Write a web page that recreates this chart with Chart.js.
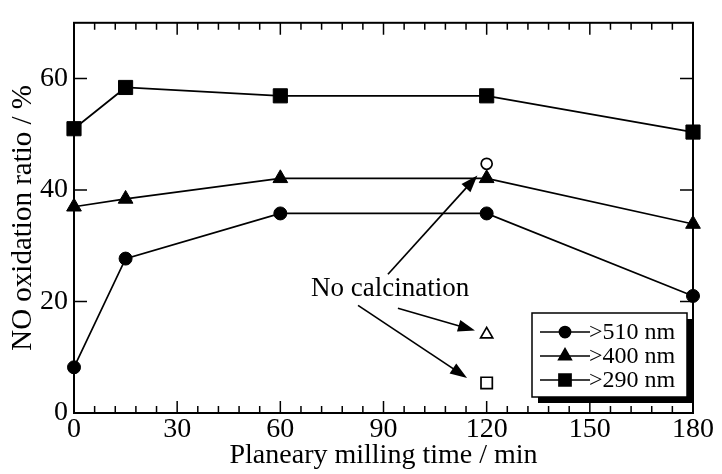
<!DOCTYPE html>
<html><head><meta charset="utf-8">
<script src="https://cdn.jsdelivr.net/npm/chart.js@4/dist/chart.umd.min.js"></script>
<style>html,body{margin:0;padding:0;background:#fff}</style>
</head><body>
<canvas id="c" width="722" height="474"></canvas>
<script>
// ---- data ----
const millingTimes = [0, 15, 60, 120, 180];
const ratio510 = [8.2, 27.7, 35.8, 35.8, 21.0];
const ratio400 = [37.0, 38.4, 42.1, 42.1, 33.9];
const ratio290 = [51.0, 58.4, 56.9, 56.9, 50.4];
const noCalcTime = [120];
const noCalc510 = [44.7];
const noCalc400 = [14.1];
const noCalc290 = [5.4];
const seriesLabels = ['>510 nm', '>400 nm', '>290 nm'];
const seriesMarkers = ['circle', 'triangle', 'rect'];
const annotationText = 'No calcination';
const xTickValues = [0, 30, 60, 90, 120, 150, 180];
const yTickValues = [0, 20, 40, 60];
const xTitle = 'Planeary milling time / min';
const yTitle = 'NO oxidation ratio / %';

const SERIF = '"Liberation Serif", "Times New Roman", serif';
const pts = (xs, ys) => xs.map((x, i) => ({x, y: ys[i]}));
const markerRadius = {circle: 6.5, triangle: 8.5, rect: 10};

const mainSet = (label, ys, m) => ({
  label, data: pts(millingTimes, ys), borderColor: '#000', backgroundColor: '#000',
  borderWidth: 1.7, pointStyle: m, pointRadius: markerRadius[m], pointBorderWidth: 1,
  pointBackgroundColor: '#000', pointBorderColor: '#000', showLine: true, tension: 0, clip: false
});
const openSet = (label, ys, m, r) => ({
  label, data: pts(noCalcTime, ys), showLine: false, pointStyle: m, pointRadius: r,
  pointBackgroundColor: '#fff', pointBorderColor: '#000', pointBorderWidth: 1.7, clip: false
});

const framePlugin = {
  id: 'frame',
  beforeDatasetsDraw(chart) {
    const ctx = chart.ctx, a = chart.chartArea, xs = chart.scales.x, ys = chart.scales.y;
    ctx.save();
    ctx.strokeStyle = '#000';
    ctx.lineWidth = 2;
    ctx.strokeRect(a.left, a.top, a.right - a.left, a.bottom - a.top);
    ctx.lineWidth = 1.5;
    ctx.beginPath();
    for (let v = 0; v <= 180; v += 6) {
      const px = xs.getPixelForValue(v);
      const len = (v % 30 === 0) ? 12 : 7;
      ctx.moveTo(px, a.bottom); ctx.lineTo(px, a.bottom - len);
      ctx.moveTo(px, a.top); ctx.lineTo(px, a.top + len);
    }
    yTickValues.forEach(v => {
      const py = ys.getPixelForValue(v);
      ctx.moveTo(a.left, py); ctx.lineTo(a.left + 13, py);
      ctx.moveTo(a.right, py); ctx.lineTo(a.right - 13, py);
    });
    ctx.stroke();
    ctx.restore();
  },
  afterDraw(chart, args, opts) {
    const ctx = chart.ctx, xs = chart.scales.x, ys = chart.scales.y;
    ctx.save();
    ctx.strokeStyle = '#000'; ctx.fillStyle = '#000';

    // annotation text
    const t = opts.text;
    ctx.font = '27px ' + SERIF;
    ctx.textAlign = 'center'; ctx.textBaseline = 'alphabetic';
    ctx.fillText(annotationText, xs.getPixelForValue(t.x), ys.getPixelForValue(t.y));

    // arrows
    opts.arrows.forEach(ar => {
      const x1 = xs.getPixelForValue(ar.from[0]), y1 = ys.getPixelForValue(ar.from[1]);
      const x2 = xs.getPixelForValue(ar.to[0]), y2 = ys.getPixelForValue(ar.to[1]);
      const ang = Math.atan2(y2 - y1, x2 - x1);
      const hl = 17, hw = 6;
      ctx.lineWidth = 1.7;
      ctx.beginPath(); ctx.moveTo(x1, y1);
      ctx.lineTo(x2 - Math.cos(ang) * hl * 0.8, y2 - Math.sin(ang) * hl * 0.8); ctx.stroke();
      ctx.beginPath();
      ctx.moveTo(x2, y2);
      ctx.lineTo(x2 - Math.cos(ang) * hl - Math.sin(ang) * hw, y2 - Math.sin(ang) * hl + Math.cos(ang) * hw);
      ctx.lineTo(x2 - Math.cos(ang) * hl + Math.sin(ang) * hw, y2 - Math.sin(ang) * hl - Math.cos(ang) * hw);
      ctx.closePath(); ctx.fill();
    });

    // legend box with shadow
    const L = opts.legend;
    const bx = L.x, by = L.y, bw = L.w, bh = L.h;
    ctx.fillStyle = '#000';
    ctx.fillRect(bx + 6, by + 6, bw, bh);
    ctx.fillStyle = '#fff';
    ctx.fillRect(bx, by, bw, bh);
    ctx.lineWidth = 1.5; ctx.strokeStyle = '#000';
    ctx.strokeRect(bx, by, bw, bh);
    ctx.fillStyle = '#000';
    ctx.font = '24px ' + SERIF;
    ctx.textAlign = 'left'; ctx.textBaseline = 'middle';
    seriesLabels.forEach((lab, i) => {
      const cy = by + 19 + i * 24;
      ctx.lineWidth = 1.7;
      ctx.beginPath(); ctx.moveTo(bx + 8, cy); ctx.lineTo(bx + 58, cy); ctx.stroke();
      const m = seriesMarkers[i];
      Chart.helpers.drawPoint(ctx, {pointStyle: m, radius: markerRadius[m] * 0.85, borderWidth: 1}, bx + 33, cy);
      ctx.fill();
      ctx.fillText(lab, bx + 57, cy + 1);
    });
    ctx.restore();
  }
};

new Chart(document.getElementById('c'), {
  type: 'scatter',
  data: {
    datasets: [
      mainSet(seriesLabels[0], ratio510, 'circle'),
      mainSet(seriesLabels[1], ratio400, 'triangle'),
      mainSet(seriesLabels[2], ratio290, 'rect'),
      openSet('no calc 510', noCalc510, 'circle', 5.5),
      openSet('no calc 400', noCalc400, 'triangle', 7),
      openSet('no calc 290', noCalc290, 'rect', 8)
    ]
  },
  plugins: [framePlugin],
  options: {
    responsive: false, animation: false,
    layout: {padding: {top: 10, right: 29, left: 0, bottom: 2}},
    plugins: {
      legend: {display: false}, tooltip: {enabled: false},
      frame: {
        text: {x: 91.9, y: 20.9},
        arrows: [
          {from: [91.3, 24.9], to: [117.3, 42.6]},
          {from: [94.2, 18.8], to: [116.6, 14.8]},
          {from: [82.6, 19.3], to: [114.3, 6.3]}
        ],
        legend: {x: 532, y: 313, w: 155, h: 84}
      }
    },
    scales: {
      x: {
        type: 'linear', min: 0, max: 180,
        afterBuildTicks: s => { s.ticks = xTickValues.map(v => ({value: v})); },
        ticks: {font: {family: SERIF, size: 28}, color: '#000', padding: 0, maxRotation: 0},
        grid: {display: false, drawTicks: false}, border: {display: false},
        title: {display: true, text: xTitle, font: {family: SERIF, size: 28}, color: '#000', padding: {top: -6, bottom: 0}},
        afterFit: s => { s.height = 59; }
      },
      y: {
        type: 'linear', min: 0, max: 70,
        afterBuildTicks: s => { s.ticks = yTickValues.map(v => ({value: v})); },
        ticks: {font: {family: SERIF, size: 28}, color: '#000', padding: 6},
        grid: {display: false, drawTicks: false}, border: {display: false},
        title: {display: true, text: yTitle, font: {family: SERIF, size: 29}, color: '#000', padding: {top: 6, bottom: 0}},
        afterFit: s => { s.width = 74; }
      }
    }
  }
});
</script>
</body></html>
